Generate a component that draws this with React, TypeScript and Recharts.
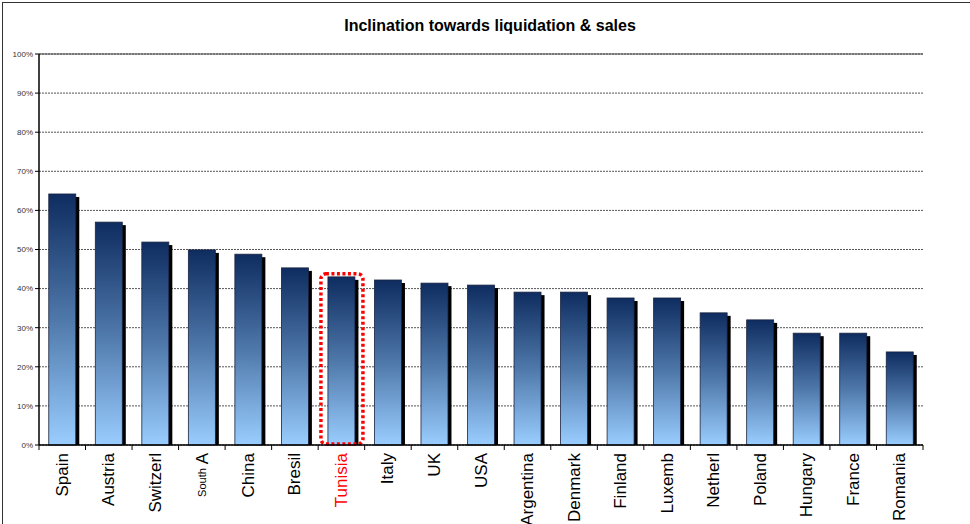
import { BarChart, Bar, XAxis, YAxis, CartesianGrid, ReferenceLine } from "recharts";

const countries = [
  "Spain", "Austria", "Switzerl", "South A", "China", "Bresil", "Tunisia", "Italy", "UK", "USA",
  "Argentina", "Denmark", "Finland", "Luxemb", "Netherl", "Poland", "Hungary", "France", "Romania",
];
const inclination = [
  64.2, 57.0, 51.9, 49.9, 48.8, 45.3, 43.0, 42.2, 41.4, 40.9,
  39.1, 39.1, 37.6, 37.6, 33.8, 32.0, 28.6, 28.6, 23.8,
];
const yTicks = [0, 10, 20, 30, 40, 50, 60, 70, 80, 90, 100];
const highlighted = "Tunisia";

const data = countries.map((name, i) => ({ name, value: inclination[i] }));

const FONT = "'Liberation Sans', Arial, sans-serif";
const HALF_STEP = (970 - 39 - 47) / countries.length / 2;

function BarShape(props: any) {
  const { x, y, width, height, payload } = props;
  if (!height || height <= 0) return null;
  const isHi = payload.name === highlighted;
  return (
    <g>
      <rect x={x + 3.5} y={y + 3} width={width} height={height - 3} fill="#000" />
      <rect x={x} y={y} width={width} height={height} fill="url(#barGrad)" stroke="#1a2440" strokeWidth={0.8} />
      {isHi && (
        <rect
          x={x - 7}
          y={y - 3}
          width={width + 15}
          height={height + 2}
          rx={5}
          fill="none"
          stroke="#ff0000"
          strokeWidth={3.5}
          strokeDasharray="3 2.5"
        />
      )}
    </g>
  );
}

function CountryTick(props: any) {
  const { x, y, payload, index } = props;
  const off = payload?.offset ?? HALF_STEP;
  const ty = y + 8;
  const isHi = payload.value === highlighted;
  const last = index === countries.length - 1;
  return (
    <g>
      <line x1={x - off} y1={y} x2={x - off} y2={y + 5} stroke="#000" />
      {last && <line x1={x + off} y1={y} x2={x + off} y2={y + 5} stroke="#000" />}
      <text
        x={x}
        y={ty}
        transform={`rotate(-90, ${x}, ${ty})`}
        textAnchor="end"
        dominantBaseline="central"
        fontFamily={FONT}
        fontSize={17}
        fill={isHi ? "#ff0000" : "#000"}
      >
        {payload.value === "South A" ? (
          <>
            <tspan fontSize={11}>South</tspan>
            <tspan> A</tspan>
          </>
        ) : (
          payload.value
        )}
      </text>
    </g>
  );
}

export default function App() {
  return (
    <div style={{ position: "relative", width: 970, height: 524, overflow: "hidden", background: "#fff" }}>
      <style>{"body{margin:0}"}</style>
      <div
        style={{
          position: "absolute",
          left: 2,
          top: 2,
          width: 1100,
          height: 1100,
          border: "1.5px solid #333",
        }}
      />
      <div
        style={{
          position: "absolute",
          left: 0,
          top: 17,
          width: 980,
          textAlign: "center",
          fontFamily: FONT,
          fontWeight: "bold",
          fontSize: 16,
        }}
      >
        Inclination towards liquidation &amp; sales
      </div>
      <BarChart
        width={970}
        height={524}
        data={data}
        margin={{ top: 54, right: 47, bottom: 0, left: 0 }}
        barCategoryGap="21%"
        style={{ position: "absolute", left: 0, top: 0 }}
      >
        <defs>
          <linearGradient id="barGrad" x1="0" y1="0" x2="0" y2="1">
            <stop offset="0%" stopColor="#0e2c60" />
            <stop offset="50%" stopColor="#4f78aa" />
            <stop offset="100%" stopColor="#9acdff" />
          </linearGradient>
        </defs>
        <CartesianGrid vertical={false} stroke="#555" strokeDasharray="2 1" />
        <ReferenceLine y={100} stroke="#444" strokeWidth={1.2} />
        <XAxis
          dataKey="name"
          interval={0}
          height={79}
          tickSize={0}
          tickMargin={0}
          tickLine={false}
          axisLine={{ stroke: "#000", strokeWidth: 1.5 }}
          tick={<CountryTick />}
        />
        <YAxis
          domain={[0, 100]}
          ticks={yTicks}
          width={39}
          tickSize={4}
          tickMargin={2}
          tickFormatter={(v) => `${v}%`}
          axisLine={{ stroke: "#000", strokeWidth: 1.5 }}
          tickLine={{ stroke: "#000" }}
          tick={{ fontSize: 8, fill: "#333", fontFamily: FONT }}
        />
        <YAxis yAxisId="r" orientation="right" width={0} tick={false} tickLine={false} axisLine={{ stroke: "#777" }} />
        <Bar dataKey="value" shape={<BarShape />} isAnimationActive={false} />
      </BarChart>
    </div>
  );
}
